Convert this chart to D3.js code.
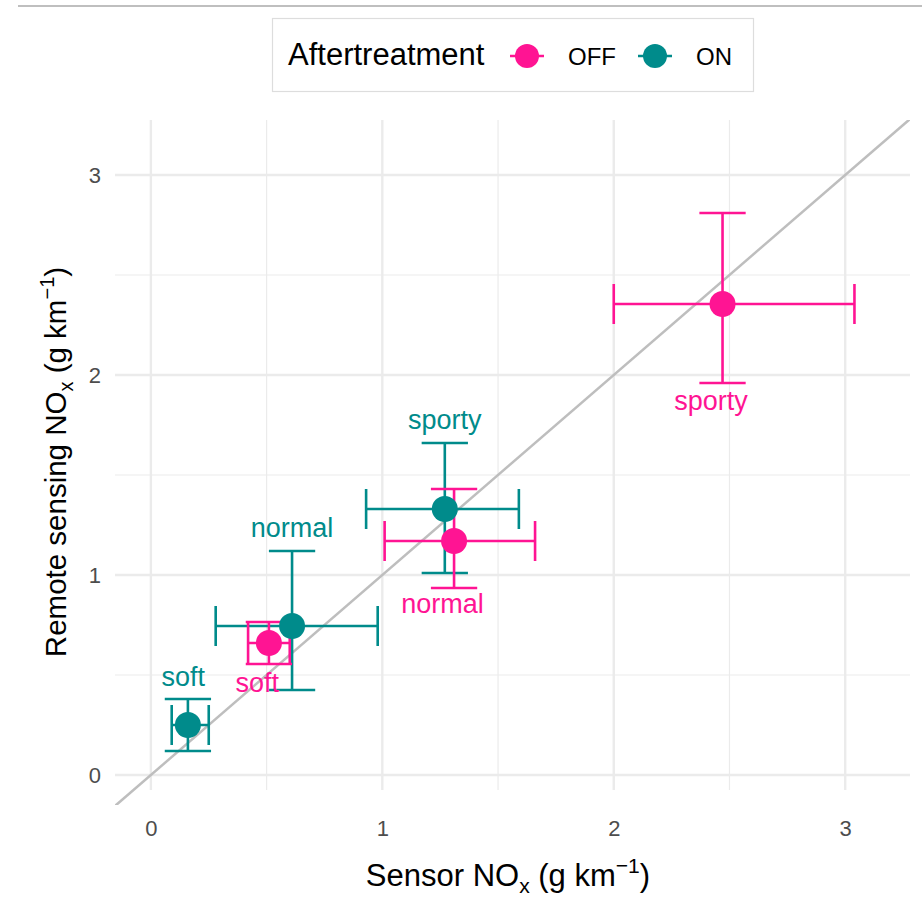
<!DOCTYPE html>
<html lang="en">
<head>
<meta charset="UTF-8">
<title>NOx sensor vs remote sensing</title>
<script src="https://cdn.jsdelivr.net/npm/d3@7"></script>
<style>
  body { margin: 0; background: #fff; }
  text { font-family: "Liberation Sans", Arial, sans-serif; }
</style>
</head>
<body>
<script>
// data (g/km)
var modes = ["sporty", "sporty", "normal", "normal", "soft", "soft"];
var treat = ["OFF", "ON", "OFF", "ON", "OFF", "ON"];
var sensor = [2.47, 1.27, 1.31, 0.61, 0.51, 0.16];
var sensorLo = [2.00, 0.93, 1.01, 0.28, 0.42, 0.09];
var sensorHi = [3.04, 1.59, 1.66, 0.98, 0.60, 0.25];
var remote = [2.355, 1.33, 1.17, 0.745, 0.66, 0.25];
var remoteLo = [1.96, 1.01, 0.935, 0.425, 0.555, 0.12];
var remoteHi = [2.81, 1.66, 1.43, 1.12, 0.765, 0.38];
var labelX = [2.42, 1.27, 1.26, 0.61, 0.46, 0.14];
var labelY = [1.87, 1.775, 0.855, 1.235, 0.46, 0.49];
var ticks = [0, 1, 2, 3];
var minorTicks = [0.5, 1.5, 2.5];
var groups = ["OFF", "ON"];
var colours = ["#ff1493", "#008b8b"];

var width = 922, height = 898;
var pLeft = 115, pRight = 910, pTop = 120, pBottom = 805;

var x = d3.scaleLinear().domain([-0.155, 3.28]).range([pLeft, pRight]);
var y = d3.scaleLinear().domain([-0.15, 3.275]).range([pBottom, pTop]);
var colour = d3.scaleOrdinal().domain(groups).range(colours);

var svg = d3.select("body").append("svg")
    .attr("width", width)
    .attr("height", height);

// thin rule across the top
svg.append("line")
    .attr("x1", 18).attr("x2", width)
    .attr("y1", 6).attr("y2", 6)
    .attr("stroke", "#aaaaaa").attr("stroke-width", 1.5);

svg.append("defs").append("clipPath").attr("id", "panel")
    .append("rect")
    .attr("x", pLeft).attr("y", pTop)
    .attr("width", pRight - pLeft).attr("height", pBottom - pTop);

// grid
var grid = svg.append("g").attr("stroke", "#ebebeb");
grid.selectAll(".vminor").data(minorTicks).enter().append("line")
    .attr("x1", d => x(d)).attr("x2", d => x(d))
    .attr("y1", pTop).attr("y2", pBottom - 15)
    .attr("stroke-width", 1.2);
grid.selectAll(".hminor").data(minorTicks).enter().append("line")
    .attr("x1", pLeft).attr("x2", pRight)
    .attr("y1", d => y(d)).attr("y2", d => y(d))
    .attr("stroke-width", 1.2);
grid.selectAll(".vmajor").data(ticks).enter().append("line")
    .attr("x1", d => x(d)).attr("x2", d => x(d))
    .attr("y1", pTop).attr("y2", pBottom - 15)
    .attr("stroke-width", 2.4);
grid.selectAll(".hmajor").data(ticks).enter().append("line")
    .attr("x1", pLeft).attr("x2", pRight)
    .attr("y1", d => y(d)).attr("y2", d => y(d))
    .attr("stroke-width", 2.4);

// axes (labels only, ggplot minimal style)
var xAxis = svg.append("g")
    .attr("transform", "translate(0," + 836 + ")")
    .call(d3.axisBottom(x).tickValues(ticks).tickSize(0).tickPadding(0).tickFormat(d3.format("d")));
xAxis.select(".domain").remove();
xAxis.attr("font-size", null).attr("font-family", null);
xAxis.selectAll("text")
    .attr("fill", "#4d4d4d").attr("font-size", 22).attr("dy", 0).attr("y", 0);

var yAxis = svg.append("g")
    .attr("transform", "translate(" + 101 + ",0)")
    .call(d3.axisLeft(y).tickValues(ticks).tickSize(0).tickPadding(0).tickFormat(d3.format("d")));
yAxis.select(".domain").remove();
yAxis.attr("font-size", null).attr("font-family", null);
yAxis.selectAll("text")
    .attr("fill", "#4d4d4d").attr("font-size", 22);

// 1:1 line
svg.append("line")
    .attr("clip-path", "url(#panel)")
    .attr("x1", x(-0.2)).attr("y1", y(-0.2))
    .attr("x2", x(3.4)).attr("y2", y(3.4))
    .attr("stroke", "#bebebe").attr("stroke-width", 2.5);

var rows = d3.range(modes.length);
var capX = 0.1, capY = 0.1;

var bars = svg.append("g").attr("fill", "none").attr("stroke-width", 2.6);
rows.forEach(function(i) {
    var c = colour(treat[i]);
    var g = bars.append("g").attr("stroke", c);
    // vertical error bar
    g.append("line")
        .attr("x1", x(sensor[i])).attr("x2", x(sensor[i]))
        .attr("y1", y(remoteLo[i])).attr("y2", y(remoteHi[i]));
    [remoteLo[i], remoteHi[i]].forEach(function(v) {
        g.append("line")
            .attr("x1", x(sensor[i] - capX)).attr("x2", x(sensor[i] + capX))
            .attr("y1", y(v)).attr("y2", y(v));
    });
    // horizontal error bar
    g.append("line")
        .attr("x1", x(sensorLo[i])).attr("x2", x(sensorHi[i]))
        .attr("y1", y(remote[i])).attr("y2", y(remote[i]));
    [sensorLo[i], sensorHi[i]].forEach(function(v) {
        g.append("line")
            .attr("x1", x(v)).attr("x2", x(v))
            .attr("y1", y(remote[i] - capY)).attr("y2", y(remote[i] + capY));
    });
});

svg.append("g").selectAll("circle").data(rows).enter().append("circle")
    .attr("cx", i => x(sensor[i]))
    .attr("cy", i => y(remote[i]))
    .attr("r", 13)
    .attr("fill", i => colour(treat[i]));

svg.append("g").selectAll("text").data(rows).enter().append("text")
    .attr("x", i => x(labelX[i]))
    .attr("y", i => y(labelY[i]))
    .attr("text-anchor", "middle")
    .attr("dominant-baseline", "central")
    .attr("font-size", 27)
    .attr("fill", i => colour(treat[i]))
    .text(i => modes[i]);

// axis titles
function unitTitle(sel, label, size) {
    var s = size * 0.68;
    sel.append("tspan").text(label);
    sel.append("tspan").attr("font-size", s).attr("dy", size * 0.22).text("x");
    sel.append("tspan").attr("dy", -size * 0.22).text(" (g km");
    sel.append("tspan").attr("font-size", s).attr("dy", -size * 0.42).text("\u22121");
    sel.append("tspan").attr("dy", size * 0.42).text(")");
}

var xt = svg.append("text")
    .attr("x", 508).attr("y", 886)
    .attr("text-anchor", "middle")
    .attr("font-size", 31).attr("fill", "#000");
unitTitle(xt, "Sensor NO", 31);

var yt = svg.append("text")
    .attr("transform", "translate(66,462) rotate(-90)")
    .attr("text-anchor", "middle")
    .attr("font-size", 29.5).attr("fill", "#000");
unitTitle(yt, "Remote sensing NO", 29.5);

// legend
var legend = svg.append("g");
legend.append("rect")
    .attr("x", 272.5).attr("y", 18.5).attr("width", 481).attr("height", 73)
    .attr("fill", "#fff").attr("stroke", "#dddddd").attr("stroke-width", 1.2);
legend.append("text")
    .attr("x", 288).attr("y", 65)
    .attr("font-size", 31).text("Aftertreatment");
var keyX = [527, 655];
groups.forEach(function(gname, k) {
    var c = colour(gname);
    legend.append("line")
        .attr("x1", keyX[k] - 17).attr("x2", keyX[k] + 17)
        .attr("y1", 56).attr("y2", 56)
        .attr("stroke", c).attr("stroke-width", 2.6);
    legend.append("circle")
        .attr("cx", keyX[k]).attr("cy", 56).attr("r", 12).attr("fill", c);
    legend.append("text")
        .attr("x", keyX[k] + 41).attr("y", 56).attr("dominant-baseline", "central")
        .attr("font-size", 24).text(gname);
});
</script>
</body>
</html>
